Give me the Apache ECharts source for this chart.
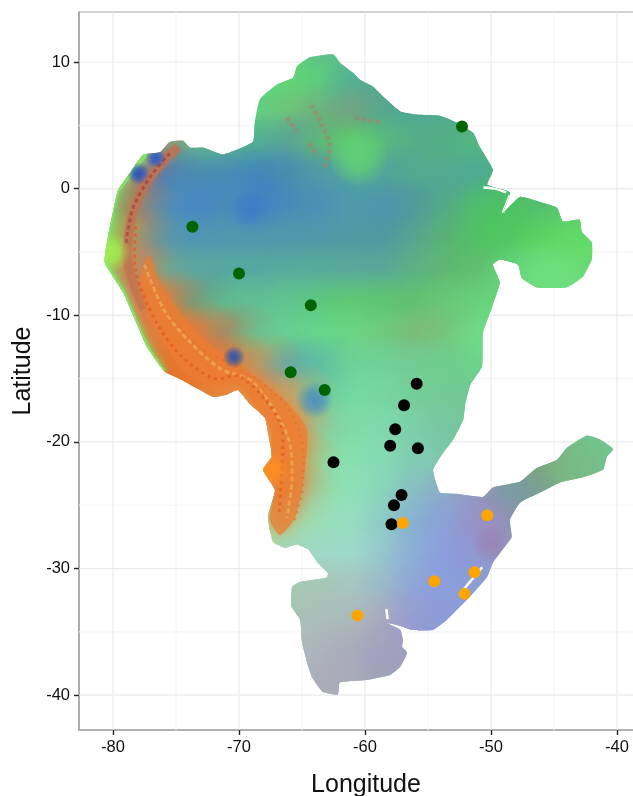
<!DOCTYPE html>
<html><head><meta charset="utf-8">
<style>html,body{margin:0;padding:0;background:#fff;overflow:hidden}#c{width:633px;height:796px}</style>
<script src="https://cdn.jsdelivr.net/npm/echarts@6/dist/echarts.min.js"></script>
</head><body><div id="c"></div>
<script>
const lonTicks=[-80,-70,-60,-50,-40];
const latTicks=[10,0,-10,-20,-30,-40];
const lonMinor=[-75,-65,-55,-45];
const latMinor=[5,-5,-15,-25,-35];
const greenSites=[[-73.7,-3.0],[-70.0,-6.7],[-64.3,-9.2],[-65.9,-14.5],[-63.2,-15.9],[-52.3,4.9]];
const blackSites=[[-55.9,-15.4],[-56.9,-17.1],[-57.6,-19.0],[-58.0,-20.3],[-55.8,-20.5],[-62.5,-21.6],[-57.1,-24.2],[-57.7,-25.0],[-57.9,-26.5]];
const orangeSites=[[-57.0,-26.4],[-50.3,-25.8],[-54.5,-31.0],[-51.3,-30.3],[-52.1,-32.0],[-60.6,-33.7]];
const outline=[[-64.4,10.35],[-62.5,10.6],[-62,9.95],[-60.95,9.15],[-60.4,8.6],[-59.35,8.05],[-58.55,7.25],[-57.2,6.1],[-55.9,5.85],[-54.05,5.75],[-52.7,5.2],[-51.4,4.4],[-50.9,3.3],[-49.85,1.5],[-50.3,0.3],[-48.5,-0.3],[-49.05,-1.9],[-47.7,-0.65],[-46.1,-1.05],[-44.75,-1.5],[-44.3,-2.6],[-42.95,-2.45],[-42.8,-3.4],[-42,-4.25],[-42,-5.6],[-42.7,-6.95],[-44,-7.8],[-46.35,-7.8],[-47.55,-7.05],[-47.85,-6],[-49.3,-5.6],[-49.85,-6],[-49.3,-7.4],[-49.9,-9.3],[-50.65,-11.4],[-50.7,-14.05],[-51.65,-15.5],[-52.05,-17.05],[-52.2,-18.25],[-53,-19.8],[-53.8,-20.85],[-54.6,-22.2],[-54.05,-24],[-52.7,-24.1],[-50.65,-24.35],[-49.85,-23.6],[-47.7,-23.15],[-46.35,-22.05],[-44.75,-21.4],[-43.95,-20.45],[-42.4,-19.5],[-41.35,-19.8],[-40.3,-20.55],[-40.8,-21.15],[-41.1,-22.2],[-42.7,-22.8],[-44.5,-23.2],[-46.1,-24],[-47.7,-24.8],[-48.5,-26.15],[-48.35,-27.5],[-48.65,-27.95],[-49.85,-29.55],[-50.3,-30.65],[-51.65,-32.2],[-52.45,-33],[-53.5,-34.05],[-54.6,-34.85],[-56.2,-34.85],[-57.45,-34.45],[-58.25,-34.3],[-57.2,-34.85],[-57,-35.6],[-57.05,-36.2],[-56.65,-36.65],[-57.2,-37.75],[-58,-38.4],[-59.85,-38.8],[-62,-39],[-62.15,-39.95],[-63.35,-39.75],[-64.2,-38.6],[-64.5,-37.75],[-65,-35.85],[-65.15,-34.05],[-65.85,-33],[-65.8,-31.45],[-65.15,-31.05],[-64.15,-30.9],[-63,-30.7],[-62.95,-30.35],[-63.75,-29.55],[-64.5,-28.5],[-65.4,-28.1],[-66.35,-28.35],[-67.3,-27.9],[-67.7,-25.9],[-67.15,-23.8],[-68.1,-22.2],[-67.4,-21.15],[-67.7,-19.25],[-67.95,-18.1],[-69.1,-17.05],[-70.1,-15.9],[-70.95,-16.25],[-72.05,-16.45],[-73.1,-15.9],[-74.85,-14.95],[-75.9,-14.45],[-77.3,-12.5],[-79.2,-8.2],[-80.65,-5.85],[-80.4,-3.8],[-79.85,-1.1],[-79.6,-0.1],[-78.65,1.25],[-77.6,2.7],[-76.25,2.9],[-75.5,3.7],[-74.45,3.8],[-73.9,3.25],[-72.85,3.25],[-71.25,2.7],[-68.9,3.7],[-68.75,5.2],[-68.35,7.05],[-67,8.2],[-65.7,8.75],[-65.4,9.65]];
const andesSouth=[[-77.9,-7.6],[-76.8,-10.75],[-74.6,-14.2],[-72.7,-15.3],[-70.1,-15.5],[-68.75,-17.05],[-67.55,-18.65],[-67.4,-20.6],[-67.95,-22.2],[-67.15,-23.8],[-67.55,-26.15],[-66.75,-27.35],[-65.55,-26],[-64.9,-23],[-64.6,-19.05],[-66.4,-16.65],[-68.2,-15.25],[-70.2,-13.7],[-72.2,-12.4],[-74.2,-10.35],[-76.2,-7.6],[-77.2,-5.2]];
const ridgeNorth=[[-74.85,3.3],[-76.25,1.9],[-77.7,-0.1],[-78.65,-2.85],[-78.8,-6],[-77.5,-9.5]];
const coastMargin=[[-77.6,2.9],[-78.9,1.25],[-79.9,-0.1],[-80.4,-2],[-80.9,-5.85],[-79.5,-8.2],[-77.6,-12.5],[-76.2,-14.6]];
const textureA=[[-77.5,-6],[-76,-9.5],[-74,-12],[-71.5,-14.2],[-69,-15.2],[-67.2,-17.5],[-66,-20],[-65.8,-23],[-66.2,-26]];
const textureB=[[-78.2,-3],[-78.2,-6.5],[-76.6,-10.5],[-74.6,-13.2],[-72,-15],[-70,-14.8],[-67.8,-16.8],[-66.6,-19],[-66.6,-22],[-66.8,-25.5]];
const textureC=[[-75.5,2.8],[-77,1],[-78.4,-1.5],[-79,-4.5]];
const textureD=[[-75.5,-10],[-73.2,-12.5],[-70.8,-13.8],[-68.4,-15.2],[-66.2,-17.2],[-65,-20],[-65,-24],[-65.6,-26.2]];
const brownNorth=[[[-66.2,5.6],[-65.4,4.5]],[[-64.3,6.6],[-63.4,5],[-62.8,3.4],[-63.2,1.6]],[[-60.8,5.6],[-58.6,5.2]],[[-64.4,3.6],[-63.8,2.6]]];
const fieldLons=[-80,-77.5,-75,-72.5,-70,-67.5,-65,-62.5,-60,-57.5,-55,-52.5,-50,-47.5,-45,-42.5,-40];
const fieldLats=[10,7.5,5,2.5,0,-2.5,-5,-7.5,-10,-12.5,-15,-17.5,-20,-22.5,-25,-27.5,-30,-32.5,-35,-37.5,-40];
const _=null;
const fieldColors=[
[_,_,_,_,_,_,'#5fc884','#58b88c',_,_,_,_,_,_,_,_,_],
[_,_,_,_,_,'#5ccc80','#64d870','#5cc880','#50a898','#50a890',_,_,_,_,_,_,_],
[_,_,_,_,_,'#62d080','#72bc7a','#6cac80','#74a082','#4ea890','#4ea894','#50a890',_,_,_,_,_],
[_,_,'#a08a70','#58b890','#58b08c','#4ea898','#5a9e98','#5cc070','#58cc68','#58b880','#54aa88','#52b080','#52b880',_,_,_,_],
[_,'#b07a60','#3f7cc4','#4a8ab0','#4488bc','#3f80c0','#4a8cb0','#5098a8','#4fa0a0','#4fa09c','#54a88c','#50a894','#4ca894','#50b070',_,_,_],
['#70d070','#b07a58','#4a90bc','#4884c8','#4a8cb8','#3f80c8','#4a8cb8','#4a90b8','#4f9ca8','#4a90b0','#4f9c98','#54ac80','#4cc460','#4cc460','#54c070','#5cc86c',_],
['#88e458','#c08858','#4f98b0','#4f94b4','#5098ac','#4f98ac','#4f98a8','#4f98a8','#5098a0','#4f98a0','#5aa888','#58b470','#50c460','#50c860','#5cd860','#64dc68',_],
[_,'#d88050','#6aa890','#5aa8a0','#56a8a0','#56a8a0','#58ac9c','#58ac98','#5aa89c','#5aa894','#5cb480','#60b870','#60c070','#68d880','#70e080',_,_],
[_,'#d88050','#e07838','#6a9e80','#60c090','#62c094','#60c88c','#5cc878','#60cc70','#5cc470','#64c070','#68cc78','#68d47c',_,_,_,_],
[_,_,'#e87830','#e87838','#a08868','#68c894','#68d090','#68d88c','#6cd484','#70c880','#80b878','#74c880','#70e088',_,_,_,_],
[_,_,'#e86e28','#ec7428','#f07a30','#b89868','#5aa8b0','#60c0a0','#70d498','#70d09c','#70cc94','#6cd08c',_,_,_,_,_],
[_,_,_,_,'#ea8838','#e88a40','#c8a868','#68cca0','#78dca4','#78d4a0','#74cc98','#74c894',_,_,_,_,_],
[_,_,_,_,_,'#f09040','#e89048','#88d0a0','#80dca8','#80d8b0','#7ccca8','#78c4a0',_,_,_,'#70c490','#70c890'],
[_,_,_,_,_,'#f89028','#e89040','#88dca8','#88e0b0','#84d8b4','#80c8b4',_,_,'#7ca088','#80a878','#78bc88',_],
[_,_,_,_,_,'#e88040','#d89050','#90e0b0','#90e0bc','#88d0bc','#88b8c8','#90a4cc','#9890c0','#7898a0',_,_,_],
[_,_,_,_,_,'#a8d8a0','#a8d8a0','#98e0c0','#98dcc4','#8cc4c4','#88a8d8','#8c9cd8','#9c8cc0',_,_,_,_],
[_,_,_,_,_,_,'#a0d8c8','#a0d8c8','#a0d8cc','#94c0d0','#8ca8dc','#8c98e0','#9098d0',_,_,_,_],
[_,_,_,_,_,_,'#a8c8b0','#a8c4b8','#a8c4c0','#98b4cc','#8ca0dc','#8c9cdc',_,_,_,_,_],
[_,_,_,_,_,_,'#acc0b8','#acbcbc','#acb8bc','#a8a4c0','#9098d8',_,_,_,_,_,_],
[_,_,_,_,_,_,'#b0bcc0','#acb0bc','#a8a8bc','#a49cc0',_,_,_,_,_,_,_],
[_,_,_,_,_,_,_,'#b0a8bc',_,_,_,_,_,_,_,_,_]
];
const spots=[[-64,-16.7,1.5,'#4c90bc'],[-70.4,-13.3,.9,'#2a54b0'],[-78,1.2,.9,'#2a50c0'],[-76.6,2.4,.8,'#2c58c8'],[-67.5,-22.2,1.5,'#ff9020'],[-80.2,-5,1.6,'#a0f050'],[-50,-28,1.6,'#9a84b4'],[-60.5,2.5,2.4,'#62d074'],[-69.1,-1.6,1.6,'#3f7cc8']];
const gaps=[[[-50.6,0.1],[-49.7,0],[-48.8,-0.3]],[[-49.05,-1.9],[-48.5,-0.5]],[[-52.3,-31.8],[-50.7,-29.9]],[[-58.3,-33.2],[-58.2,-34]]];

function rgba(h,a){const n=parseInt(h.slice(1),16);return `rgba(${n>>16},${(n>>8)&255},${n&255},${a})`;}
function line(api,pts,style){return {type:'polyline',shape:{points:pts.map(p=>api.coord(p)),smooth:.3},style:Object.assign({fill:null,lineJoin:'round'},style)};}
function glow(api,lon,lat,rad,col,a){
  const c=api.coord([lon,lat]),r=api.size([rad,0])[0];
  return {type:'circle',shape:{cx:c[0],cy:c[1],r:r},style:{fill:{type:'radial',x:.5,y:.5,r:.5,colorStops:[{offset:0,color:rgba(col,a)},{offset:.45,color:rgba(col,a*.75)},{offset:1,color:rgba(col,0)}]}}};
}
function renderMap(params,api){
  const children=[];
  const poly=outline.map(p=>api.coord(p));
  children.push({type:'polygon',shape:{points:poly},style:{fill:'#66c88c'}});
  fieldLats.forEach((lat,i)=>fieldLons.forEach((lon,j)=>{
    const col=fieldColors[i][j];
    if(col) children.push(glow(api,lon,lat,3.7,col,.9));
  }));
  children.push(line(api,coastMargin,{stroke:'#86e268',lineWidth:11,shadowBlur:7,shadowColor:'#86e268'}));
  children.push(line(api,ridgeNorth,{stroke:'rgba(190,115,80,.8)',lineWidth:9,shadowBlur:7,shadowColor:'rgba(190,115,80,.6)'}));
  children.push({type:'polygon',shape:{points:andesSouth.map(p=>api.coord(p)),smooth:.2},style:{fill:'rgba(236,125,50,.72)',shadowBlur:14,shadowColor:'rgba(236,125,50,.7)'}});
  children.push(line(api,textureA,{stroke:'rgba(240,175,95,.65)',lineWidth:3,lineDash:[5,3]}));
  children.push(line(api,textureB,{stroke:'rgba(225,90,40,.75)',lineWidth:3,lineDash:[3,4]}));
  children.push(line(api,textureC,{stroke:'rgba(170,70,70,.8)',lineWidth:3,lineDash:[4,3]}));
  children.push(line(api,textureD,{stroke:'rgba(225,110,50,.65)',lineWidth:2.5,lineDash:[2,5]}));
  brownNorth.forEach(b=>children.push(line(api,b,{stroke:'rgba(165,130,105,.55)',lineWidth:4,lineDash:[4,3],shadowBlur:3,shadowColor:'rgba(165,130,105,.5)'})));
  spots.forEach(b=>children.push(glow(api,b[0],b[1],b[2],b[3],.95)));
  gaps.forEach(g=>children.push(line(api,g,{stroke:'#fff',lineWidth:2.5})));
  return {type:'group',clipPath:{type:'polygon',shape:{points:poly,smooth:.15}},children:children};
}
function renderGrid(params,api){
  const s=params.coordSys,children=[];
  const add=(vals,vert,color)=>vals.forEach(v=>{
    const p=api.coord(vert?[v,0]:[-60,v]);
    children.push({type:'line',shape:vert?{x1:p[0],y1:s.y,x2:p[0],y2:s.y+s.height}:{x1:s.x,y1:p[1],x2:s.x+s.width,y2:p[1]},style:{stroke:color,lineWidth:1.2}});
  });
  add(lonMinor,true,'#f6f6f6');add(latMinor,false,'#f6f6f6');
  add(lonTicks,true,'#ebebeb');add(latTicks,false,'#ebebeb');
  return {type:'group',children:children};
}
const axisBase={type:'value',nameLocation:'middle',nameTextStyle:{fontFamily:'Liberation Sans',fontSize:25,color:'#111'},
  axisLine:{show:true,onZero:false,lineStyle:{color:'#a6a6a6',width:1.6}},splitLine:{show:false},
  axisLabel:{fontFamily:'Liberation Sans',fontSize:16.5,color:'#111'}};
const chart=echarts.init(document.getElementById('c'),null,{renderer:'canvas'});
const scatter=(name,data,color)=>({name,type:'scatter',data,symbolSize:12,z:5,itemStyle:{color,opacity:1},silent:true});
chart.setOption({
  animation:false,backgroundColor:'#fff',
  grid:{left:79,top:12,width:556,height:718,show:true,borderColor:'#a6a6a6',borderWidth:1.2,backgroundColor:'#fff',outerBoundsMode:'none'},
  xAxis:Object.assign({},axisBase,{name:'Longitude',nameGap:43,min:-82.7,max:-38.57,
    nameTextStyle:Object.assign({},axisBase.nameTextStyle,{padding:[0,0,0,18]}),
    axisTick:{show:true,length:5,customValues:lonTicks,lineStyle:{color:'#222',width:1.4}},
    axisLabel:Object.assign({},axisBase.axisLabel,{margin:9,customValues:lonTicks})}),
  yAxis:Object.assign({},axisBase,{name:'Latitude',nameGap:43,min:-42.75,max:13.95,
    axisTick:{show:true,length:5,customValues:latTicks,lineStyle:{color:'#222',width:1.4}},
    axisLabel:Object.assign({},axisBase.axisLabel,{margin:9,customValues:latTicks})}),
  series:[
    {type:'custom',renderItem:renderGrid,data:[[0,0]],z:1,silent:true,clip:false,encode:{x:0,y:1}},
    {type:'custom',renderItem:renderMap,data:[[-60,-10]],z:2,silent:true,clip:false,encode:{x:0,y:1}},
    scatter('Amazon sites',greenSites,'#006400'),
    scatter('Central sites',blackSites,'#000'),
    scatter('Southern sites',orangeSites,'#FFA500')
  ]
});
</script></body></html>
